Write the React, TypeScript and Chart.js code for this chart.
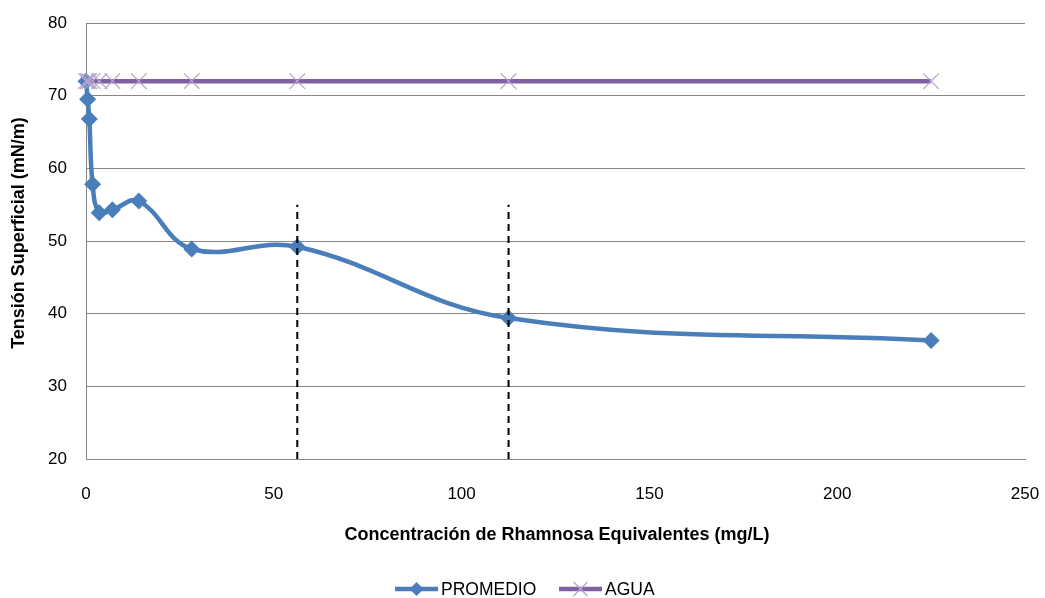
import React, { useEffect, useRef } from "react";
import { Chart, registerables } from "chart.js";

Chart.register(...registerables);

const concentraciones = [0, 0.44, 0.88, 1.76, 3.52, 7.03, 14.06, 28.13, 56.25, 112.5, 225];
const promedio = [72, 69.5, 66.8, 57.8, 53.9, 54.3, 55.5, 48.9, 49.2, 39.4, 36.3];
const agua = [72, 72, 72, 72, 72, 72, 72, 72, 72, 72, 72];
const marcasX = [56.25, 112.5];
const marcaYMin = 20;
const marcaYMax = 55;
const xTicks = [0, 50, 100, 150, 200, 250];
const yTicks = [20, 30, 40, 50, 60, 70, 80];
const xTitle = "Concentración de Rhamnosa Equivalentes (mg/L)";
const yTitle = "Tensión Superficial (mN/m)";
const serieNames = ["PROMEDIO", "AGUA"];

const BLUE = "#4a7ebb";
const PURPLE = "#7f60a0";
const PURPLE_LIGHT = "#b3a3cf";
const GRID = "#868686";
const FONT = "'Liberation Sans', Arial, sans-serif";

const overlay = {
  id: "overlay",
  afterDraw(chart: any) {
    const ctx = chart.ctx;
    ctx.save();
    ctx.fillStyle = "#000";
    ctx.font = `bold 18px ${FONT}`;
    ctx.textAlign = "center";
    ctx.textBaseline = "middle";
    ctx.fillText(xTitle, 557, 535);
    ctx.save();
    ctx.translate(19, 233);
    ctx.rotate(-Math.PI / 2);
    ctx.fillText(yTitle, 0, 0);
    ctx.restore();

    // legend
    const ly = 589;
    const items = [
      { x0: 395, color: BLUE, name: serieNames[0], marker: "diamond" },
      { x0: 559, color: PURPLE, name: serieNames[1], marker: "cross" },
    ];
    ctx.font = `17.5px ${FONT}`;
    ctx.textAlign = "left";
    for (const it of items) {
      ctx.strokeStyle = it.color;
      ctx.lineWidth = 4.5;
      ctx.beginPath();
      ctx.moveTo(it.x0, ly);
      ctx.lineTo(it.x0 + 43, ly);
      ctx.stroke();
      const cx = it.x0 + 21.5;
      if (it.marker === "diamond") {
        ctx.fillStyle = it.color;
        ctx.beginPath();
        ctx.moveTo(cx, ly - 7);
        ctx.lineTo(cx + 7, ly);
        ctx.lineTo(cx, ly + 7);
        ctx.lineTo(cx - 7, ly);
        ctx.closePath();
        ctx.fill();
      } else {
        ctx.strokeStyle = PURPLE_LIGHT;
        ctx.lineWidth = 1.3;
        ctx.beginPath();
        ctx.moveTo(cx - 7, ly - 7);
        ctx.lineTo(cx + 7, ly + 7);
        ctx.moveTo(cx + 7, ly - 7);
        ctx.lineTo(cx - 7, ly + 7);
        ctx.stroke();
      }
      ctx.fillStyle = "#000";
      ctx.fillText(it.name, it.x0 + 46, ly + 1);
    }
    ctx.restore();
  },
};

const zeroPad = (s: any) => {
  s.paddingTop = 0;
  s.paddingBottom = 0;
  s.paddingLeft = 0;
  s.paddingRight = 0;
};

export default function App() {
  const ref = useRef<HTMLCanvasElement>(null);
  useEffect(() => {
    const canvas = ref.current!;
    const datasets: any[] = [
      {
        label: serieNames[0],
        data: concentraciones.map((x, i) => ({ x, y: promedio[i] })),
        borderColor: BLUE,
        backgroundColor: BLUE,
        borderWidth: 4.5,
        tension: 0.4,
        pointStyle: "rectRot",
        pointRadius: 8.5,
        pointBorderWidth: 0,
        pointBackgroundColor: BLUE,
        clip: false,
        order: 2,
      },
      {
        label: serieNames[1],
        data: concentraciones.map((x, i) => ({ x, y: agua[i] })),
        borderColor: PURPLE,
        backgroundColor: PURPLE_LIGHT,
        borderWidth: 4.5,
        tension: 0,
        pointStyle: "crossRot",
        pointRadius: 11,
        pointBorderWidth: 1.3,
        pointBorderColor: PURPLE_LIGHT,
        clip: false,
        order: 1,
      },
      ...marcasX.map((mx) => ({
        label: "marca",
        data: [
          { x: mx, y: marcaYMin },
          { x: mx, y: marcaYMax },
        ],
        borderColor: "#000",
        borderWidth: 2,
        borderDash: [7, 5],
        pointRadius: 0,
        tension: 0,
        order: 0,
      })),
    ];
    const chart = new Chart(canvas, {
      type: "line",
      data: { datasets },
      plugins: [overlay],
      options: {
        responsive: false,
        animation: false,
        layout: { padding: { top: 23, right: 20, bottom: 0, left: 0 } },
        plugins: {
          legend: { display: false },
          tooltip: { enabled: false },
        },
        scales: {
          x: {
            type: "linear",
            min: 0,
            max: 250,
            afterBuildTicks: (s: any) => {
              s.ticks = xTicks.map((v) => ({ value: v }));
            },
            afterFit: (s: any) => {
              s.height = 139;
              zeroPad(s);
            },
            grid: { display: false, drawTicks: false },
            border: { display: true, color: GRID, width: 1 },
            ticks: {
              padding: 25,
              color: "#000",
              font: { family: FONT, size: 17 },
              maxRotation: 0,
            },
          },
          y: {
            type: "linear",
            min: 20,
            max: 80,
            afterBuildTicks: (s: any) => {
              s.ticks = yTicks.map((v) => ({ value: v }));
            },
            afterFit: (s: any) => {
              s.width = 86;
              zeroPad(s);
            },
            grid: { color: GRID, lineWidth: 1, drawTicks: false },
            border: { display: true, color: GRID, width: 1 },
            ticks: {
              padding: 19,
              color: "#000",
              font: { family: FONT, size: 17 },
            },
          },
        },
      },
    } as any);
    return () => chart.destroy();
  }, []);
  return (
    <div style={{ position: "fixed", left: 0, top: 0, width: 1045, height: 598, background: "#fff" }}>
      <canvas ref={ref} width={1045} height={598} style={{ width: 1045, height: 598, display: "block" }} />
    </div>
  );
}
